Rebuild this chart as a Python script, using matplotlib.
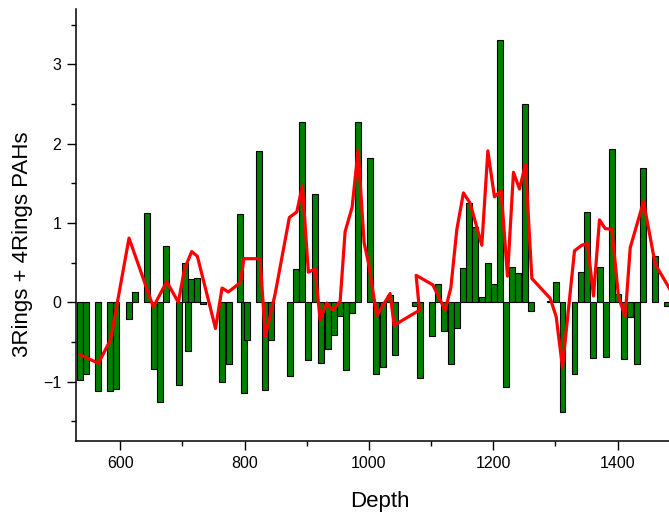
import numpy as np
import matplotlib
matplotlib.use('Agg')
import matplotlib.pyplot as plt
from matplotlib.ticker import MultipleLocator

plt.rcParams['font.family'] = ['Liberation Sans', 'DejaVu Sans']

# bar series: depth and value
bar_depth = [535.1, 544.3, 564.6, 583.9, 593.6, 614.0, 623.7, 643.0, 653.8, 664.4,
             674.0, 694.0, 703.7, 708.5, 713.8, 723.5, 733.1, 764.2, 774.5, 793.2,
             798.3, 803.9, 823.7, 832.9, 842.6, 873.6, 883.3, 893.0, 902.6, 913.4,
             922.6, 933.8, 943.5, 953.2, 962.8, 972.5, 983.1, 1002.4, 1012.1, 1022.9,
             1034.1, 1042.2, 1074.4, 1081.9, 1102.2, 1111.9, 1121.5, 1132.3, 1142.0, 1151.6,
             1161.3, 1170.9, 1181.7, 1191.4, 1202.0, 1211.7, 1221.3, 1231.0, 1240.6, 1251.4,
             1261.1, 1291.7, 1300.8, 1311.5, 1330.8, 1341.3, 1351.2, 1360.9, 1371.7, 1381.3,
             1391.0, 1400.6, 1410.3, 1420.0, 1430.6, 1440.3, 1460.7, 1480.0]
bar_value = [-0.98, -0.90, -1.12, -1.12, -1.10, -0.21, 0.13, 1.13, -0.84, -1.26,
             0.71, -1.04, 0.50, -0.62, 0.29, 0.31, -0.02, -1.01, -0.78, 1.12,
             -1.14, -0.47, 1.91, -1.11, -0.47, -0.93, 0.42, 2.27, -0.73, 1.36,
             -0.76, -0.59, -0.41, -0.17, -0.85, -0.13, 2.28, 1.82, -0.90, -0.82,
             0.09, -0.67, -0.05, -0.96, -0.43, 0.23, -0.36, -0.78, -0.32, 0.43,
             1.25, 0.95, 0.07, 0.50, 0.23, 3.31, -1.07, 0.45, 0.37, 2.50,
             -0.11, 0.02, 0.26, -1.38, -0.91, 0.38, 1.14, -0.70, 0.44, -0.69,
             1.94, 0.11, -0.72, -0.18, -0.78, 1.69, 0.59, -0.05]

# red curve: depth and value
line_depth = [535.1, 564.6, 584.5, 614.0, 653.1, 674.7, 693.4, 703.3, 714.9, 724.0,
              753.2, 763.7, 773.8, 793.5, 798.8, 824.9, 833.4, 849.0, 872.0, 884.0,
              893.0, 902.6, 913.4, 921.5, 932.2, 941.9, 953.7, 961.7, 973.0, 982.6,
              992.3, 999.2, 1012.7, 1034.1, 1040.6, 1081.3, 1076.0, 1102.9, 1122.7, 1131.8,
              1141.5, 1152.1, 1162.9, 1181.7, 1191.4, 1202.0, 1212.8, 1223.0, 1232.6, 1242.3,
              1251.9, 1262.2, 1291.7, 1301.3, 1311.5, 1330.8, 1342.7, 1351.7, 1361.4, 1371.0,
              1380.2, 1391.0, 1401.6, 1412.4, 1420.5, 1441.9, 1460.7, 1479.5, 1492.9]
line_value = [-0.66, -0.77, -0.47, 0.81, -0.06, 0.26, 0.00, 0.42, 0.64, 0.58,
              -0.33, 0.18, 0.13, 0.25, 0.55, 0.55, -0.43, 0.10, 1.07, 1.14,
              1.47, 0.38, 0.42, -0.22, -0.01, -0.10, 0.01, 0.89, 1.20, 1.92,
              0.75, 0.50, -0.17, 0.11, -0.29, -0.10, 0.34, 0.22, -0.10, 0.18,
              0.92, 1.38, 1.25, 0.72, 1.91, 1.33, 1.41, 0.33, 1.64, 1.43,
              1.74, 0.30, 0.05, -0.18, -0.82, 0.65, 0.72, 0.74, 0.08, 1.04,
              0.93, 0.92, 0.07, -0.18, 0.69, 1.27, 0.48, 0.23, 0.05]

W, H = 669, 519
fig = plt.figure(figsize=(W / 100, H / 100), dpi=100)
# plot area runs a little past the right border of the canvas
ax = fig.add_axes([76 / W, 1 - 441 / H, 608 / W, 432 / H])

ax.bar(bar_depth, bar_value, width=9.6, color='#008000', edgecolor='black',
       linewidth=0.8, zorder=2)
ax.plot(line_depth, line_value, color='#ff0000', linewidth=2.3, zorder=3)

ax.set_xlim(528.7, 1507.0)
ax.set_ylim(-1.75, 3.7)

ax.xaxis.set_major_locator(MultipleLocator(200))
ax.xaxis.set_minor_locator(MultipleLocator(100))
ax.yaxis.set_major_locator(MultipleLocator(1))
ax.yaxis.set_minor_locator(MultipleLocator(0.5))

for side in ('top', 'right'):
    ax.spines[side].set_visible(False)
for side in ('left', 'bottom'):
    ax.spines[side].set_linewidth(1.1)

ax.tick_params(which='major', direction='out', length=6.5, width=1.0,
               labelsize=11.5, pad=4)
ax.tick_params(which='minor', direction='out', length=3.5, width=1.0)

fig.text(380 / W, 1 - 502 / H, 'Depth', fontsize=16, ha='center', va='center')
fig.text(23 / W, 1 - 244 / H, '3Rings + 4Rings PAHs', fontsize=16,
         rotation=90, ha='center', va='center')

fig.savefig('out.png', dpi=100)
